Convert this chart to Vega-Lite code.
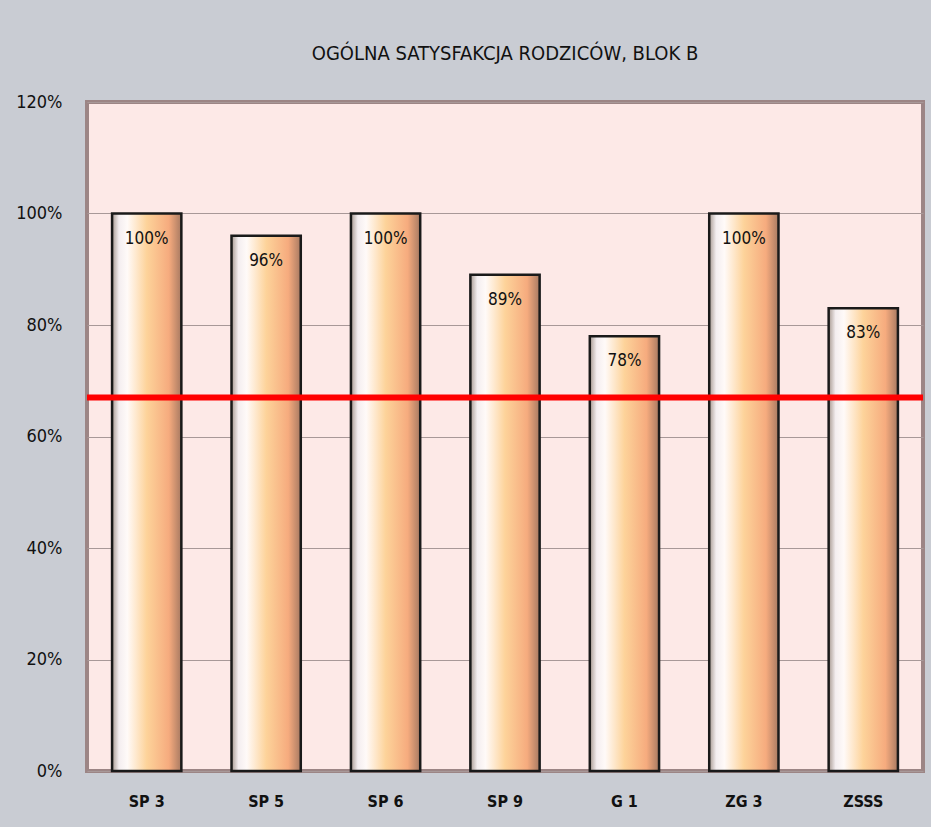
{
  "$schema": "https://vega.github.io/schema/vega-lite/v6.json",
  "width": 931,
  "height": 827,
  "autosize": {"type": "fit", "contains": "padding"},
  "padding": {"left": 15, "right": 5, "top": 44, "bottom": 18},
  "background": "#c9ccd3",
  "title": {
    "text": "OGÓLNA SATYSFAKCJA RODZICÓW, BLOK B",
    "font": "DejaVu Sans Condensed, Liberation Sans, sans-serif",
    "fontSize": 20,
    "fontWeight": "normal",
    "color": "#111111",
    "offset": 29
  },
  "config": {
    "view": {"fill": "#fde9e7", "stroke": "#9c8585", "strokeWidth": 4},
    "axis": {"labelFont": "DejaVu Sans Condensed, Liberation Sans, sans-serif", "labelColor": "#111111"}
  },
  "data": {
    "values": [
      {"szkola": "SP 3", "wynik": 1.00},
      {"szkola": "SP 5", "wynik": 0.96},
      {"szkola": "SP 6", "wynik": 1.00},
      {"szkola": "SP 9", "wynik": 0.89},
      {"szkola": "G 1", "wynik": 0.78},
      {"szkola": "ZG 3", "wynik": 1.00},
      {"szkola": "ZSSS", "wynik": 0.83}
    ]
  },
  "encoding": {
    "x": {
      "field": "szkola",
      "type": "nominal",
      "sort": null,
      "scale": {"paddingInner": 0.42, "paddingOuter": 0.21},
      "axis": {
        "title": null,
        "labelAngle": 0,
        "labelFontSize": 16,
        "labelFontWeight": "bold",
        "labelPadding": 22,
        "ticks": false,
        "domain": false
      }
    }
  },
  "layer": [
    {
      "mark": {
        "type": "bar",
        "stroke": "#1a1a1a",
        "strokeWidth": 2.5,
        "color": {
          "gradient": "linear",
          "x1": 0, "x2": 1, "y1": 0, "y2": 0,
          "stops": [
            {"offset": 0, "color": "#a89a92"},
            {"offset": 0.1, "color": "#f4eef0"},
            {"offset": 0.22, "color": "#fffaf8"},
            {"offset": 0.5, "color": "#fdd39a"},
            {"offset": 0.82, "color": "#f6ab7e"},
            {"offset": 1, "color": "#a87a62"}
          ]
        }
      },
      "encoding": {
        "y": {
          "field": "wynik",
          "type": "quantitative",
          "scale": {"domain": [0, 1.2]},
          "axis": {
            "title": null,
            "format": ".0%",
            "values": [0, 0.2, 0.4, 0.6, 0.8, 1.0, 1.2],
            "labelFontSize": 18,
            "labelPadding": 25,
            "ticks": false,
            "domain": false,
            "gridColor": "#a89898",
            "gridWidth": 1
          }
        }
      }
    },
    {
      "mark": {
        "type": "text",
        "baseline": "top",
        "dy": 17,
        "font": "DejaVu Sans Condensed, Liberation Sans, sans-serif",
        "fontSize": 17,
        "color": "#111111"
      },
      "encoding": {
        "y": {"field": "wynik", "type": "quantitative"},
        "text": {"field": "wynik", "type": "quantitative", "format": ".0%"}
      }
    },
    {
      "data": {"values": [{"prog": 0.67}]},
      "mark": {"type": "rule", "color": "#ff0000", "strokeWidth": 6},
      "encoding": {
        "x": null,
        "y": {"field": "prog", "type": "quantitative"}
      }
    }
  ]
}
